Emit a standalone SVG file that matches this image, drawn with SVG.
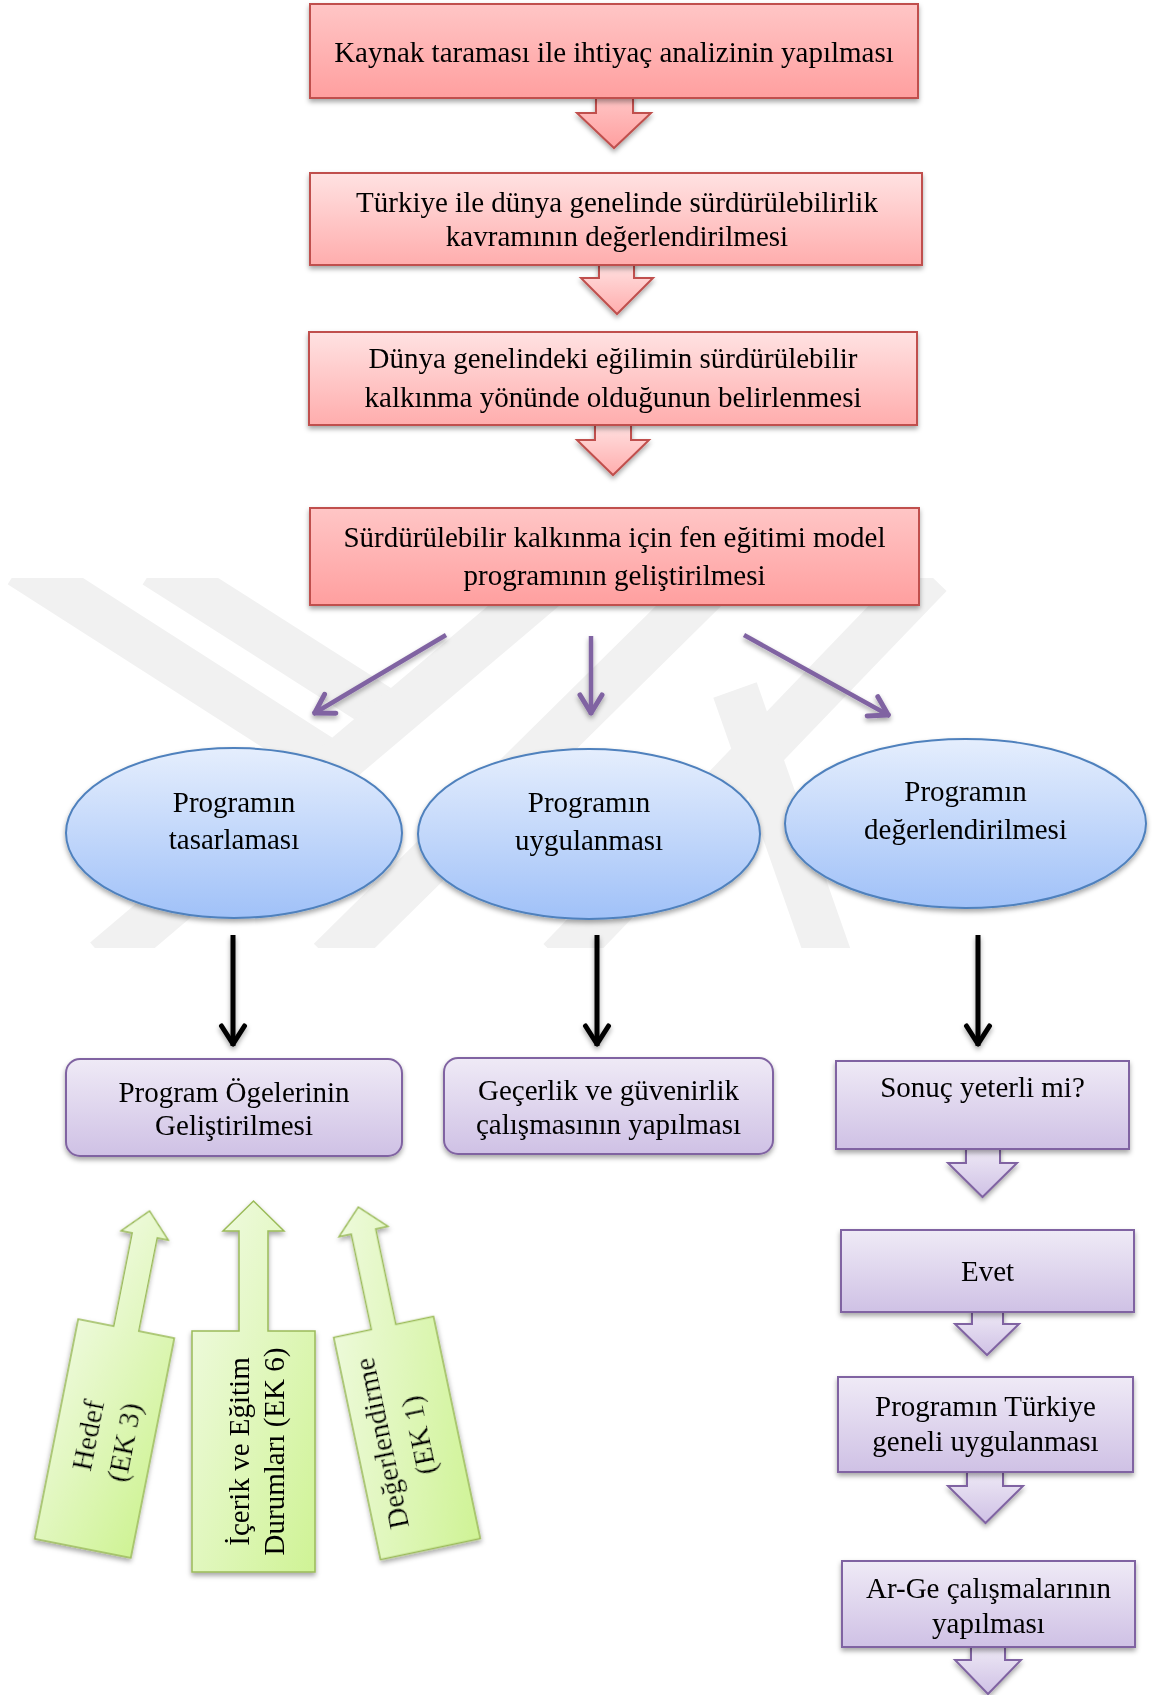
<svg xmlns="http://www.w3.org/2000/svg" width="1152" height="1695" viewBox="0 0 1152 1695">
<style>
text{font-family:"Liberation Serif","Times New Roman",serif;font-size:29px;fill:#000;text-anchor:middle}
.red{stroke:#c0504d;stroke-width:2}
.pur{stroke:#8064a2;stroke-width:2}
.blu{stroke:#4f81bd;stroke-width:2;fill:url(#gBlue)}
.grn{stroke:#9bbb59;stroke-width:1.5;fill:url(#gGreen)}
.wm{stroke:#f1f1f1;stroke-width:46;fill:none}
</style>
<defs>
<linearGradient id="gRedA" x1="0" y1="0" x2="0" y2="1"><stop offset="0" stop-color="#ffc6c6"/><stop offset="1" stop-color="#ff9f9f"/></linearGradient>
<linearGradient id="gRedB" x1="0" y1="0" x2="0" y2="1"><stop offset="0" stop-color="#ffe2e2"/><stop offset="1" stop-color="#ffadad"/></linearGradient>
<linearGradient id="gBlue" x1="0" y1="0" x2="0" y2="1"><stop offset="0" stop-color="#e5eefd"/><stop offset="1" stop-color="#a0c1f8"/></linearGradient>
<linearGradient id="gPur" x1="0" y1="0" x2="0" y2="1"><stop offset="0" stop-color="#efeaf6"/><stop offset="1" stop-color="#cfc1e5"/></linearGradient>
<linearGradient id="gGreen" x1="0" y1="0" x2="1" y2="1"><stop offset="0" stop-color="#f3fbe8"/><stop offset="1" stop-color="#cff395"/></linearGradient>
<filter id="sh" x="-10%" y="-10%" width="120%" height="130%"><feDropShadow dx="0" dy="3" stdDeviation="2.5" flood-color="#000" flood-opacity="0.35"/></filter>
<clipPath id="wmClip"><rect x="0" y="578" width="1152" height="370"/></clipPath>
<marker id="mP" markerUnits="userSpaceOnUse" markerWidth="40" markerHeight="40" viewBox="-30 -20 40 40" refX="0" refY="0" orient="auto"><path d="M-20,-11 L-2,0 L-20,11" fill="none" stroke="#8064a2" stroke-width="5" stroke-linecap="round" stroke-linejoin="round"/></marker>
<marker id="mB" markerUnits="userSpaceOnUse" markerWidth="40" markerHeight="40" viewBox="-30 -20 40 40" refX="0" refY="0" orient="auto"><path d="M-20,-11.5 L-2,0 L-20,11.5" fill="none" stroke="#000" stroke-width="5" stroke-linecap="round" stroke-linejoin="round"/></marker>
</defs>
<rect width="1152" height="1695" fill="#fff"/>
<g id="watermark" clip-path="url(#wmClip)">
<line class="wm" x1="20" y1="565" x2="320" y2="757"/>
<line class="wm" x1="155" y1="565" x2="392" y2="716"/>
<line class="wm" x1="105" y1="960" x2="560" y2="575"/>
<line class="wm" x1="330" y1="960" x2="720" y2="575"/>
<line class="wm" x1="560" y1="960" x2="930" y2="575"/>
<line class="wm" x1="735" y1="690" x2="830" y2="960"/>
</g>
<g id="connectors" filter="url(#sh)">
<line x1="446" y1="635" x2="313" y2="714" stroke="#8064a2" stroke-width="4.5" marker-end="url(#mP)"/>
<line x1="591" y1="636" x2="591" y2="715" stroke="#8064a2" stroke-width="4.5" marker-end="url(#mP)"/>
<line x1="744" y1="635" x2="890" y2="716" stroke="#8064a2" stroke-width="4.5" marker-end="url(#mP)"/>
<line x1="233" y1="935" x2="233" y2="1046" stroke="#000" stroke-width="5" marker-end="url(#mB)"/>
<line x1="597" y1="935" x2="597" y2="1046" stroke="#000" stroke-width="5" marker-end="url(#mB)"/>
<line x1="978" y1="935" x2="978" y2="1046" stroke="#000" stroke-width="5" marker-end="url(#mB)"/>
</g>
<g id="blockArrows" filter="url(#sh)">
<path class="red" fill="url(#gRedA)" d="M596,96 L633,96 L633,113 L651,113 L614,148 L577,113 L596,113 Z"/>
<path class="red" fill="url(#gRedB)" d="M599,263 L634,263 L634,278 L653,278 L617,314 L581,278 L599,278 Z"/>
<path class="red" fill="url(#gRedB)" d="M595,423 L631,423 L631,440 L649,440 L613,475 L577,440 L595,440 Z"/>
<path class="pur" fill="url(#gPur)" d="M966,1147 L1000,1147 L1000,1163 L1017,1163 L982.5,1197 L948,1163 L966,1163 Z"/>
<path class="pur" fill="url(#gPur)" d="M972,1310 L1003,1310 L1003,1324 L1019,1324 L987,1355 L955,1324 L972,1324 Z"/>
<path class="pur" fill="url(#gPur)" d="M967,1470 L1003,1470 L1003,1486 L1023,1486 L985.5,1523 L948,1486 L967,1486 Z"/>
<path class="pur" fill="url(#gPur)" d="M971,1645 L1005,1645 L1005,1660 L1021,1660 L988,1694 L955,1660 L971,1660 Z"/>
</g>
<g id="n1" filter="url(#sh)"><rect class="red" fill="url(#gRedA)" x="310" y="4" width="608" height="94"/><text x="614" y="62">Kaynak taraması ile ihtiyaç analizinin yapılması</text></g>
<g id="n2" filter="url(#sh)"><rect class="red" fill="url(#gRedB)" x="310" y="173" width="612" height="92"/><text x="617" y="212">Türkiye ile dünya genelinde sürdürülebilirlik</text><text x="617" y="246">kavramının değerlendirilmesi</text></g>
<g id="n3" filter="url(#sh)"><rect class="red" fill="url(#gRedB)" x="309" y="332" width="608" height="93"/><text x="613" y="368">Dünya genelindeki eğilimin sürdürülebilir</text><text x="613" y="407">kalkınma yönünde olduğunun belirlenmesi</text></g>
<g id="n4" filter="url(#sh)"><rect class="red" fill="url(#gRedA)" x="310" y="508" width="609" height="97"/><text x="614.5" y="547">Sürdürülebilir kalkınma için fen eğitimi model</text><text x="614.5" y="585">programının geliştirilmesi</text></g>
<g id="e1" filter="url(#sh)"><ellipse class="blu" cx="234" cy="833" rx="168" ry="85"/><text x="234" y="812">Programın</text><text x="234" y="849">tasarlaması</text></g>
<g id="e2" filter="url(#sh)"><ellipse class="blu" cx="589" cy="834" rx="171" ry="85"/><text x="589" y="812">Programın</text><text x="589" y="850">uygulanması</text></g>
<g id="e3" filter="url(#sh)"><ellipse class="blu" cx="965.5" cy="823.5" rx="180.5" ry="84.5"/><text x="965.5" y="801">Programın</text><text x="965.5" y="839">değerlendirilmesi</text></g>
<g id="b1" filter="url(#sh)"><rect class="pur" fill="url(#gPur)" x="66" y="1059" width="336" height="97" rx="14"/><text x="234" y="1102">Program Ögelerinin</text><text x="234" y="1135">Geliştirilmesi</text></g>
<g id="b2" filter="url(#sh)"><rect class="pur" fill="url(#gPur)" x="444" y="1058" width="329" height="96" rx="14"/><text x="608.5" y="1100">Geçerlik ve güvenirlik</text><text x="608.5" y="1134">çalışmasının yapılması</text></g>
<g id="r1" filter="url(#sh)"><rect class="pur" fill="url(#gPur)" x="836" y="1061" width="293" height="88"/><text x="982.5" y="1097">Sonuç yeterli mi?</text></g>
<g id="r2" filter="url(#sh)"><rect class="pur" fill="url(#gPur)" x="841" y="1230" width="293" height="82"/><text x="987.5" y="1281">Evet</text></g>
<g id="r3" filter="url(#sh)"><rect class="pur" fill="url(#gPur)" x="838" y="1377" width="295" height="95"/><text x="985.5" y="1416">Programın Türkiye</text><text x="985.5" y="1451">geneli uygulanması</text></g>
<g id="r4" filter="url(#sh)"><rect class="pur" fill="url(#gPur)" x="842" y="1561" width="293" height="86"/><text x="988.5" y="1598">Ar-Ge çalışmalarının</text><text x="988.5" y="1633">yapılması</text></g>
<g id="g1" filter="url(#sh)" transform="translate(104.5,1438.5) rotate(11.2)"><path class="grn" d="M-49,-112 L-12.75,-112 L-12.75,-207 L-24,-207 L0,-232 L24,-207 L12.75,-207 L12.75,-112 L49,-112 L49,112 L-49,112 Z"/><text transform="rotate(-90)"><tspan x="0" y="-7">Hedef</tspan><tspan x="0" y="30">(EK 3)</tspan></text></g>
<g id="g2" filter="url(#sh)" transform="translate(253.5,1451.5)"><path class="grn" d="M-61.5,-120.5 L-14.5,-120.5 L-14.5,-220.5 L-30.5,-220.5 L0,-250.5 L30.5,-220.5 L14.5,-220.5 L14.5,-120.5 L61.5,-120.5 L61.5,120.5 L-61.5,120.5 Z"/><text transform="rotate(-90)"><tspan x="0" y="-5">İçerik ve Eğitim</tspan><tspan x="0" y="30">Durumları (EK 6)</tspan></text></g>
<g id="g3" filter="url(#sh)" transform="translate(407,1438) rotate(-11.9)"><path class="grn" d="M-51,-113.5 L-12.5,-113.5 L-12.5,-211 L-25,-211 L0,-236 L25,-211 L12.5,-211 L12.5,-113.5 L51,-113.5 L51,113.5 L-51,113.5 Z"/><text transform="rotate(-90)"><tspan x="0" y="-16">Değerlendirme</tspan><tspan x="0" y="22">(EK 1)</tspan></text></g>
</svg>
